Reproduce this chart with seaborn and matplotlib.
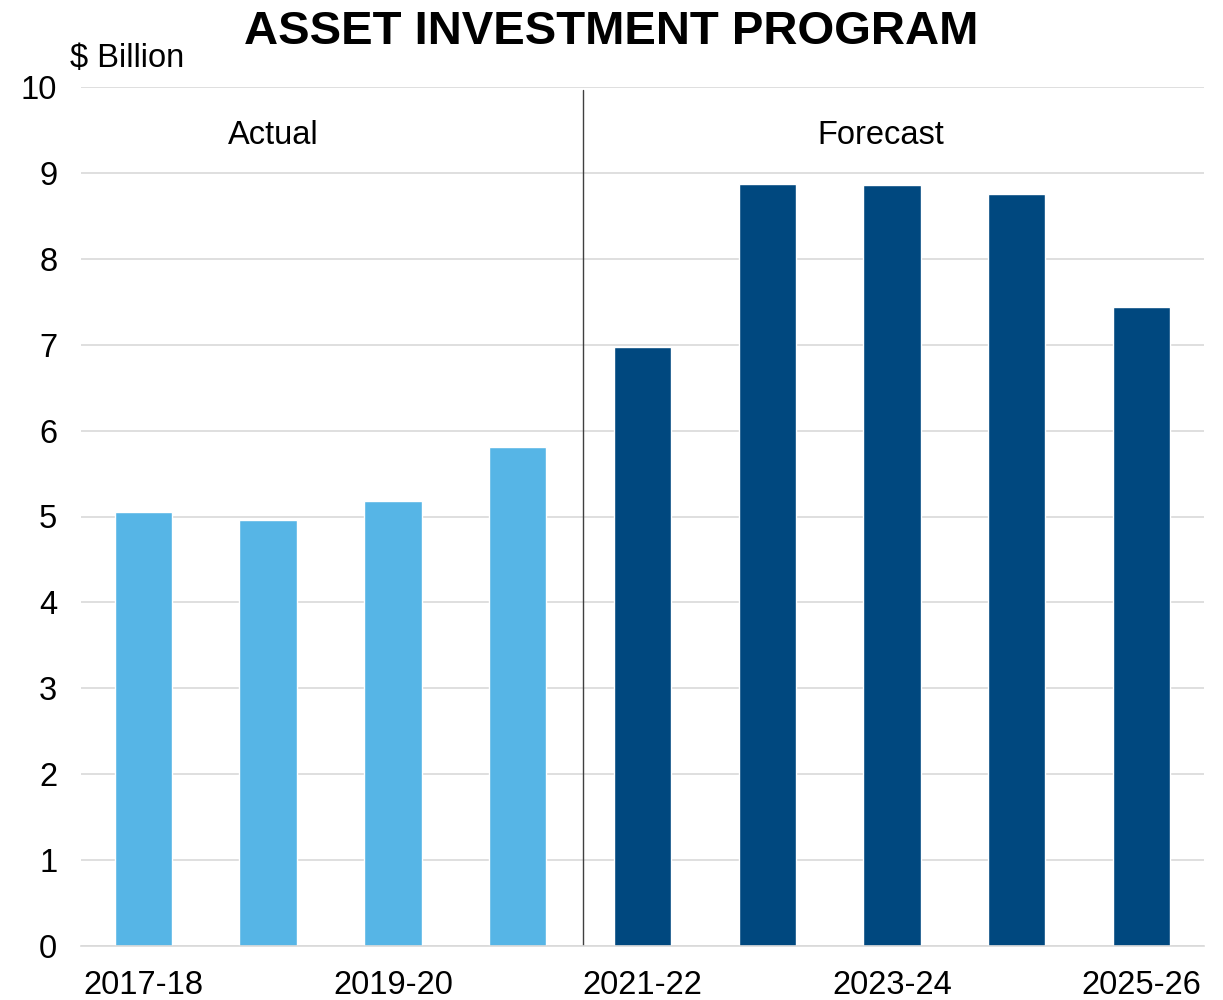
import matplotlib
matplotlib.use('Agg')
import matplotlib.pyplot as plt
import seaborn as sns
import pandas as pd

sns.set_theme(style='white')
plt.rcParams['font.family'] = ['Liberation Sans', 'DejaVu Sans']
plt.rcParams['text.color'] = 'black'

# Data ($ billion)
years = ['2017-18', '2018-19', '2019-20', '2020-21', '2021-22',
         '2022-23', '2023-24', '2024-25', '2025-26']
values = [5.05, 4.96, 5.18, 5.81, 6.97, 8.87, 8.86, 8.75, 7.44]
period = ['Actual'] * 4 + ['Forecast'] * 5
tick_labels = ['2017-18', '', '2019-20', '', '2021-22', '', '2023-24', '', '2025-26']

df = pd.DataFrame({'year': years, 'value': values, 'period': period})
palette = {'Actual': '#56B5E6', 'Forecast': '#00487F'}

fig = plt.figure(figsize=(12.23, 10), dpi=100)
ax = fig.add_axes([0.0662, 0.054, 0.9182, 0.859])

sns.barplot(data=df, x='year', y='value', hue='period', palette=palette,
            dodge=False, width=0.46, legend=False, saturation=1, ax=ax)

ax.set_ylim(0, 10)
ax.set_xlim(-0.5, len(years) - 0.5)
ax.set_yticks(range(0, 11))
ax.set_xticks(range(len(years)))
ax.set_xticklabels(tick_labels)
ax.tick_params(axis='both', labelsize=23.5, length=0, colors='black')
ax.tick_params(axis='y', pad=17)
ax.tick_params(axis='x', pad=17)
ax.yaxis.grid(True, color='#D9D9D9', linewidth=1.2)
ax.set_axisbelow(True)
for s in ['left', 'right', 'top']:
    ax.spines[s].set_visible(False)
ax.spines['bottom'].set_color('#D9D9D9')
ax.spines['bottom'].set_linewidth(1.2)
ax.set_xlabel('')
ax.set_ylabel('')

# divider between actual and forecast
ax.plot([3.52, 3.52], [0, 9.96], color='#404040', linewidth=1)
ax.text(1.04, 9.44, 'Actual', ha='center', va='center', fontsize=23.5)
ax.text(5.91, 9.44, 'Forecast', ha='center', va='center', fontsize=23.5)

fig.text(0.5, 0.968, 'ASSET INVESTMENT PROGRAM', ha='center', va='center',
         fontsize=34, fontweight='bold')
fig.text(0.057, 0.941, '$ Billion', ha='left', va='center', fontsize=23.5)

fig.savefig('out.png', dpi=100)
